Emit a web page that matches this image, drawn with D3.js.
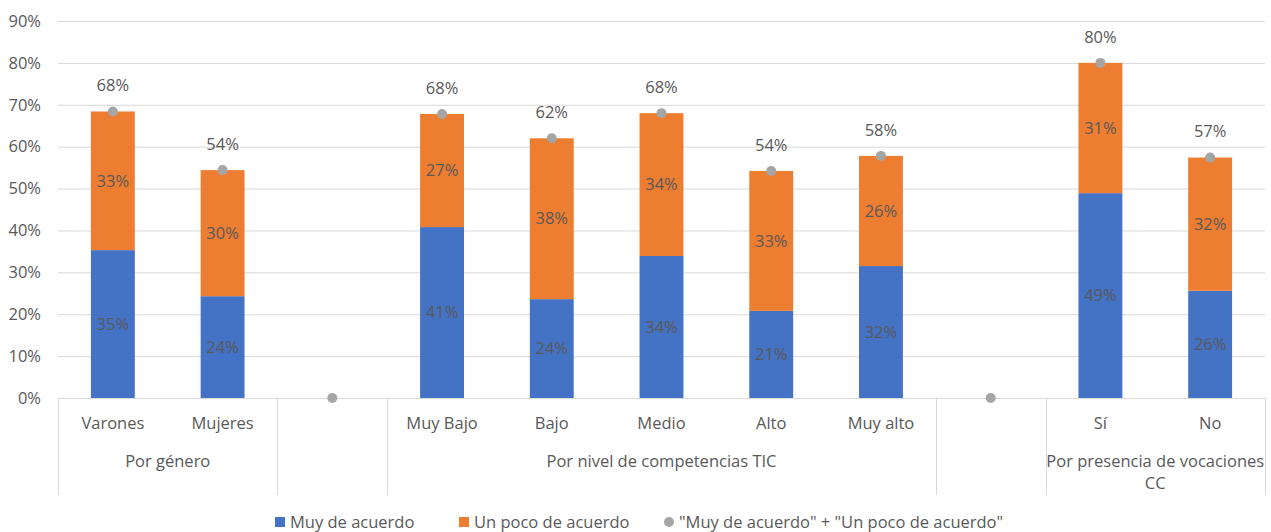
<!DOCTYPE html>
<html><head><meta charset="utf-8">
<script src="https://cdn.jsdelivr.net/npm/d3@7"></script>
<style>body{margin:0;background:#fff;} text{font-family:"Open Sans",Lato,sans-serif;}</style>
</head><body><svg id="c" width="1271" height="532"></svg>
<script>
const categories = ["Varones","Mujeres","","Muy Bajo","Bajo","Medio","Alto","Muy alto","","Sí","No"];
const muyDeAcuerdo = [35.3,24.3,null,40.8,23.6,33.9,20.8,31.5,null,48.9,25.6];
const unPocoDeAcuerdo = [33.1,30.1,null,27.0,38.4,34.1,33.4,26.3,null,31.1,31.8];
const groups = [
  {label:["Por género"], from:0, to:2},
  {label:[], from:2, to:3},
  {label:["Por nivel de competencias TIC"], from:3, to:8},
  {label:[], from:8, to:9},
  {label:["Por presencia de vocaciones","CC"], from:9, to:11}
];
const yTicks = [0,10,20,30,40,50,60,70,80,90];
const seriesNames = ["Muy de acuerdo","Un poco de acuerdo","\"Muy de acuerdo\" + \"Un poco de acuerdo\""];
const colors = ["#4472C4","#ED7D31","#A5A5A5"];

const svg = d3.select("#c");
const L = 58, R = 1265, T = 21, B = 398;
const FS = 16.5;
const idx = categories.map((d,i)=>i);
const x = d3.scaleBand().domain(idx).range([L,R]).paddingInner(0).paddingOuter(0);
const y = d3.scaleLinear().domain([0,90]).range([B,T]);
const bw = x.bandwidth()*0.4;
const textCol = "#595959";

svg.append("g").selectAll("line").data(yTicks).join("line")
  .attr("x1",L).attr("x2",R).attr("y1",d=>y(d)+0.5).attr("y2",d=>y(d)+0.5)
  .attr("stroke","#d9d9d9").attr("stroke-width",1);
svg.append("g").selectAll("text").data(yTicks).join("text")
  .attr("x",41).attr("y",d=>y(d)).attr("dy","0.35em").attr("text-anchor","end")
  .attr("font-size",FS).attr("fill",textCol).text(d=>d+"%");

const data = idx.map(i=>({i, a:muyDeAcuerdo[i], b:unPocoDeAcuerdo[i]}));
const bars = data.filter(d=>d.a!=null);
const cx = i => x(i)+x.bandwidth()/2;
svg.append("g").selectAll("rect").data(bars).join("rect")
  .attr("x",d=>cx(d.i)-bw/2).attr("width",bw)
  .attr("y",d=>y(d.a)).attr("height",d=>y(0)-y(d.a)).attr("fill",colors[0]);
svg.append("g").selectAll("rect").data(bars).join("rect")
  .attr("x",d=>cx(d.i)-bw/2).attr("width",bw)
  .attr("y",d=>y(d.a+d.b)).attr("height",d=>y(d.a)-y(d.a+d.b)).attr("fill",colors[1]);
svg.append("g").selectAll("text").data(bars).join("text")
  .attr("x",d=>cx(d.i)).attr("y",d=>(y(0)+y(d.a))/2).attr("dy","0.35em")
  .attr("text-anchor","middle").attr("font-size",FS).attr("fill",textCol)
  .text(d=>Math.round(d.a)+"%");
svg.append("g").selectAll("text").data(bars).join("text")
  .attr("x",d=>cx(d.i)).attr("y",d=>(y(d.a)+y(d.a+d.b))/2).attr("dy","0.35em")
  .attr("text-anchor","middle").attr("font-size",FS).attr("fill",textCol)
  .text(d=>Math.round(d.b)+"%");
const tot = data.map(d=>({i:d.i, v: d.a==null?0:d.a+d.b, has:d.a!=null}));
svg.append("g").selectAll("circle").data(tot).join("circle")
  .attr("cx",d=>cx(d.i)).attr("cy",d=>y(d.v)).attr("r",5).attr("fill",colors[2]);
svg.append("g").selectAll("text").data(tot.filter(d=>d.has)).join("text")
  .attr("x",d=>cx(d.i)).attr("y",d=>y(d.v)-26).attr("dy","0.35em")
  .attr("text-anchor","middle").attr("font-size",FS).attr("fill",textCol)
  .text(d=>Math.round(d.v)+"%");

svg.append("g").selectAll("text").data(categories.map((c,i)=>({c,i})).filter(d=>d.c)).join("text")
  .attr("x",d=>cx(d.i)).attr("y",423).attr("dy","0.35em").attr("text-anchor","middle")
  .attr("font-size",FS).attr("fill",textCol).text(d=>d.c);
const seps = [0].concat(groups.map(g=>g.to));
svg.append("g").selectAll("line").data(seps).join("line")
  .attr("x1",d=>Math.round(d<categories.length?x(d):R)+0.5).attr("x2",d=>Math.round(d<categories.length?x(d):R)+0.5)
  .attr("y1",B).attr("y2",495).attr("stroke","#d9d9d9").attr("stroke-width",1);
groups.forEach(g=>{
  const gx = ((g.from<categories.length?x(g.from):R)+(g.to<categories.length?x(g.to):R))/2;
  g.label.forEach((t,k)=>{
    svg.append("text").attr("x",gx).attr("y",461+k*22).attr("dy","0.35em").attr("text-anchor","middle")
      .attr("font-size",FS).attr("fill",textCol).text(t);
  });
});

const lg = svg.append("g");
const lx = [275,459,664];
lg.append("rect").attr("x",lx[0]).attr("y",517).attr("width",10).attr("height",10).attr("fill",colors[0]);
lg.append("rect").attr("x",lx[1]).attr("y",517).attr("width",10).attr("height",10).attr("fill",colors[1]);
lg.append("circle").attr("cx",lx[2]+5).attr("cy",522).attr("r",5).attr("fill",colors[2]);
seriesNames.forEach((s,k)=>{
  lg.append("text").attr("x",lx[k]+15).attr("y",522).attr("dy","0.35em").attr("font-size",FS)
    .attr("fill",textCol).text(s);
});
</script></body></html>
